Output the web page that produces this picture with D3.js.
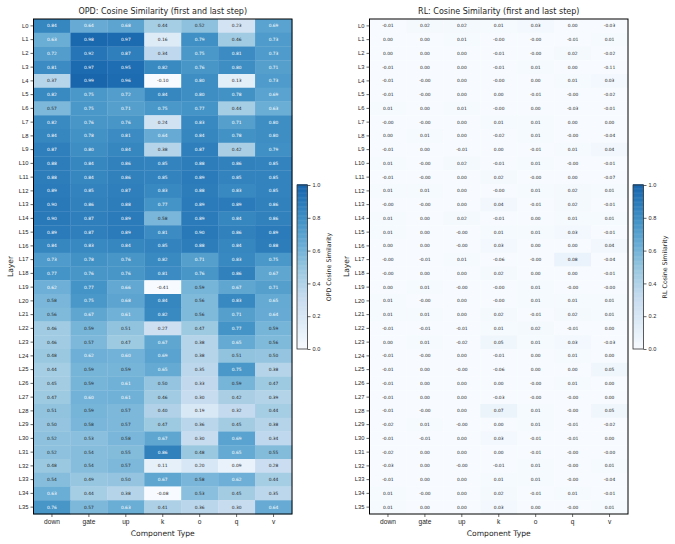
<!DOCTYPE html>
<html>
<head>
<meta charset="utf-8">
<script src="https://cdn.jsdelivr.net/npm/d3@7"></script>
<style>
  body { margin: 0; background: #fff; }
  svg { font-family: "DejaVu Sans", sans-serif; }
</style>
</head>
<body>
<script>
// component types (columns) and layers (rows)
var components = ["down", "gate", "up", "k", "o", "q", "v"];
var layers = d3.range(36).map(function (i) { return "L" + i; });

// OPD cosine similarity, one row per layer: down, gate, up, k, o, q, v
var opdValues = [
  [0.84, 0.64, 0.68, 0.44, 0.52, 0.23, 0.69],
  [0.63, 0.98, 0.97, 0.16, 0.79, 0.46, 0.73],
  [0.72, 0.92, 0.87, 0.34, 0.75, 0.81, 0.73],
  [0.81, 0.97, 0.95, 0.82, 0.76, 0.80, 0.71],
  [0.37, 0.99, 0.96, -0.10, 0.80, 0.13, 0.73],
  [0.82, 0.75, 0.72, 0.84, 0.80, 0.78, 0.69],
  [0.57, 0.75, 0.71, 0.75, 0.77, 0.44, 0.63],
  [0.82, 0.76, 0.76, 0.24, 0.83, 0.71, 0.80],
  [0.84, 0.78, 0.81, 0.64, 0.84, 0.78, 0.80],
  [0.87, 0.80, 0.84, 0.38, 0.87, 0.42, 0.79],
  [0.88, 0.84, 0.86, 0.85, 0.88, 0.86, 0.85],
  [0.88, 0.84, 0.86, 0.85, 0.89, 0.85, 0.85],
  [0.89, 0.85, 0.87, 0.83, 0.88, 0.83, 0.85],
  [0.90, 0.86, 0.88, 0.77, 0.89, 0.89, 0.86],
  [0.90, 0.87, 0.89, 0.58, 0.89, 0.84, 0.86],
  [0.89, 0.87, 0.89, 0.81, 0.90, 0.86, 0.89],
  [0.84, 0.83, 0.84, 0.85, 0.88, 0.84, 0.88],
  [0.73, 0.78, 0.76, 0.82, 0.71, 0.83, 0.75],
  [0.77, 0.76, 0.76, 0.81, 0.76, 0.86, 0.67],
  [0.62, 0.77, 0.66, -0.41, 0.59, 0.67, 0.71],
  [0.58, 0.75, 0.68, 0.84, 0.56, 0.83, 0.65],
  [0.56, 0.67, 0.61, 0.82, 0.56, 0.71, 0.64],
  [0.46, 0.59, 0.51, 0.27, 0.47, 0.77, 0.59],
  [0.46, 0.57, 0.47, 0.67, 0.38, 0.65, 0.56],
  [0.48, 0.62, 0.60, 0.69, 0.38, 0.51, 0.50],
  [0.44, 0.59, 0.59, 0.65, 0.35, 0.75, 0.38],
  [0.45, 0.59, 0.61, 0.50, 0.33, 0.59, 0.47],
  [0.47, 0.60, 0.61, 0.46, 0.30, 0.42, 0.39],
  [0.51, 0.59, 0.57, 0.40, 0.19, 0.32, 0.44],
  [0.50, 0.58, 0.57, 0.47, 0.36, 0.45, 0.38],
  [0.52, 0.53, 0.58, 0.67, 0.30, 0.69, 0.34],
  [0.52, 0.54, 0.55, 0.86, 0.48, 0.65, 0.55],
  [0.48, 0.54, 0.57, 0.11, 0.20, 0.09, 0.28],
  [0.54, 0.49, 0.50, 0.67, 0.58, 0.62, 0.44],
  [0.63, 0.44, 0.38, -0.08, 0.53, 0.45, 0.35],
  [0.76, 0.57, 0.63, 0.41, 0.36, 0.30, 0.64]
];

// RL cosine similarity (-0.00 kept as negative zero)
var rlValues = [
  [-0.01, 0.02, 0.02, 0.01, 0.03, 0.00, -0.03],
  [0.00, 0.00, 0.01, -0.00, -0.00, -0.01, 0.01],
  [0.00, 0.00, 0.00, -0.01, -0.00, 0.02, -0.02],
  [-0.01, 0.00, 0.00, -0.01, 0.01, 0.00, -0.11],
  [-0.01, -0.00, 0.00, -0.00, 0.00, 0.01, 0.03],
  [-0.01, -0.00, 0.00, 0.00, -0.01, -0.00, -0.02],
  [0.01, 0.00, 0.01, -0.00, 0.00, -0.03, -0.01],
  [-0.00, -0.00, 0.00, 0.01, 0.01, 0.00, 0.00],
  [0.00, 0.01, 0.00, -0.02, 0.01, -0.00, -0.04],
  [-0.01, 0.00, -0.01, 0.00, -0.01, 0.01, 0.04],
  [0.01, -0.00, 0.02, -0.01, 0.01, -0.00, -0.01],
  [-0.01, -0.00, 0.00, 0.02, -0.00, 0.00, -0.07],
  [0.01, 0.01, 0.00, -0.00, 0.01, 0.02, 0.01],
  [-0.00, -0.00, 0.00, 0.04, -0.01, 0.02, -0.01],
  [0.01, 0.00, 0.02, -0.01, 0.00, 0.01, 0.01],
  [0.01, 0.00, -0.00, 0.01, 0.01, 0.03, -0.01],
  [0.00, 0.00, -0.00, 0.03, 0.00, 0.00, 0.04],
  [-0.00, -0.01, 0.01, -0.06, -0.00, 0.08, -0.04],
  [-0.00, 0.00, 0.00, 0.02, 0.00, 0.00, -0.01],
  [0.00, 0.01, -0.00, -0.00, 0.01, -0.00, -0.00],
  [0.01, -0.00, 0.00, -0.00, 0.01, 0.01, 0.01],
  [0.01, 0.01, 0.00, 0.02, -0.01, 0.02, 0.01],
  [-0.01, -0.01, -0.01, 0.01, 0.02, -0.01, 0.00],
  [0.00, 0.01, -0.02, 0.05, 0.01, 0.03, -0.03],
  [-0.01, -0.00, 0.00, -0.01, 0.00, 0.01, 0.00],
  [-0.01, 0.00, -0.00, -0.06, 0.00, 0.00, 0.05],
  [-0.01, 0.00, 0.00, 0.00, -0.00, 0.01, 0.00],
  [-0.01, 0.00, 0.00, -0.03, -0.00, -0.00, 0.00],
  [-0.01, -0.00, 0.00, 0.07, 0.01, -0.00, 0.05],
  [-0.02, 0.01, -0.00, 0.00, 0.01, -0.01, -0.02],
  [-0.01, -0.01, 0.00, 0.03, -0.01, -0.01, 0.00],
  [-0.02, 0.00, 0.00, 0.00, -0.01, -0.00, -0.00],
  [-0.03, 0.00, -0.00, -0.01, 0.01, -0.00, 0.01],
  [-0.01, 0.00, 0.00, 0.01, 0.01, -0.00, -0.04],
  [0.01, -0.00, 0.00, 0.02, -0.01, 0.01, -0.01],
  [0.01, 0.00, 0.00, 0.03, 0.00, -0.00, 0.01]
];

var cbTicks = [0, 0.2, 0.4, 0.6, 0.8, 1.0];

// Blues (colorbrewer stops, linear like matplotlib) truncated to the lower 80%
var bluesStops = ["#f7fbff", "#deebf7", "#c6dbef", "#9ecae1", "#6baed6",
                  "#4292c6", "#2171b5", "#08519c", "#08306b"];
var blues = d3.scaleLinear()
    .domain(d3.range(9).map(function (i) { return i / 8; }))
    .range(bluesStops)
    .interpolate(d3.interpolateRgb)
    .clamp(true);
var color = function (v) { return blues(Math.max(0, Math.min(1, v)) * 0.8); };

function lum(c) {
  var rgb = d3.rgb(c);
  var f = function (x) {
    x = x / 255;
    return x <= 0.03928 ? x / 12.92 : Math.pow((x + 0.055) / 1.055, 2.4);
  };
  return 0.2126 * f(rgb.r) + 0.7152 * f(rgb.g) + 0.0722 * f(rgb.b);
}

function fmt(v) {
  var neg = v < 0 || Object.is(v, -0);
  return (neg ? "-" : "") + Math.abs(v).toFixed(2);
}

var width = 675, height = 544;
var svg = d3.select("body").append("svg")
    .attr("width", width).attr("height", height);

function heatmap(values, left, title, cbLabel) {
  var top = 19, w = 258.5, h = 495;
  var xScale = d3.scaleBand().domain(components).range([0, w]);
  var yScale = d3.scaleBand().domain(layers).range([0, h]);

  var g = svg.append("g").attr("transform", "translate(" + left + "," + top + ")");

  var cells = [];
  values.forEach(function (row, i) {
    row.forEach(function (v, j) {
      cells.push({layer: layers[i], comp: components[j], v: v});
    });
  });

  g.selectAll("rect.cell").data(cells).enter().append("rect")
      .attr("class", "cell")
      .attr("x", function (d) { return xScale(d.comp); })
      .attr("y", function (d) { return yScale(d.layer); })
      .attr("width", xScale.bandwidth() + 0.3)
      .attr("height", yScale.bandwidth() + 0.3)
      .attr("fill", function (d) { return color(d.v); });

  g.selectAll("text.annot").data(cells).enter().append("text")
      .attr("class", "annot")
      .attr("x", function (d) { return xScale(d.comp) + xScale.bandwidth() / 2; })
      .attr("y", function (d) { return yScale(d.layer) + yScale.bandwidth() / 2; })
      .attr("dy", "0.35em")
      .attr("text-anchor", "middle")
      .attr("font-size", 4.4)
      .attr("fill", function (d) { return lum(color(d.v)) > 0.408 ? "#262626" : "#ffffff"; })
      .text(function (d) { return fmt(d.v); });

  // frame
  g.append("rect")
      .attr("width", w).attr("height", h)
      .attr("fill", "none").attr("stroke", "#000").attr("stroke-width", 1);

  var yAxis = d3.axisLeft(yScale).tickSize(3).tickPadding(2);
  var yg = g.append("g").call(yAxis);
  yg.select(".domain").remove();
  yg.selectAll("text").attr("font-size", 5.8).attr("fill", "#262626");
  yg.selectAll("line").attr("stroke", "#262626").attr("stroke-width", 0.7);

  var xAxis = d3.axisBottom(xScale).tickSize(3).tickPadding(2);
  var xg = g.append("g").attr("transform", "translate(0," + h + ")").call(xAxis);
  xg.select(".domain").remove();
  xg.selectAll("text").attr("font-size", 6.6).attr("fill", "#262626");
  xg.selectAll("line").attr("stroke", "#262626").attr("stroke-width", 0.7);

  g.append("text")
      .attr("x", w / 2).attr("y", -5)
      .attr("text-anchor", "middle")
      .attr("font-size", 8)
      .attr("fill", "#262626")
      .text(title);

  g.append("text")
      .attr("x", w / 2).attr("y", h + 22)
      .attr("text-anchor", "middle")
      .attr("font-size", 7.6)
      .attr("fill", "#262626")
      .text("Component Type");

  g.append("text")
      .attr("transform", "translate(" + (-21) + "," + (h / 2) + ") rotate(-90)")
      .attr("text-anchor", "middle")
      .attr("font-size", 7.6)
      .attr("fill", "#262626")
      .text("Layer");

  // colorbar
  var cbX = w + 5, cbY = 185 - top, cbW = 10.5, cbH = 164;
  var cbScale = d3.scaleLinear().domain([0, 1]).range([cbH, 0]);
  var cb = g.append("g").attr("transform", "translate(" + cbX + "," + cbY + ")");
  var steps = d3.range(0, 1.0001, 1 / 200);
  cb.selectAll("rect.cbstep").data(steps).enter().append("rect")
      .attr("class", "cbstep")
      .attr("x", 0)
      .attr("y", function (d) { return cbScale(d) - cbH / 200; })
      .attr("width", cbW)
      .attr("height", cbH / 200 + 0.5)
      .attr("fill", function (d) { return color(d); });
  cb.append("rect")
      .attr("width", cbW).attr("height", cbH)
      .attr("fill", "none").attr("stroke", "#333").attr("stroke-width", 0.8);
  var cbAxis = d3.axisRight(cbScale).tickValues(cbTicks)
      .tickFormat(d3.format(".1f")).tickSize(3).tickPadding(2);
  var cg = cb.append("g").attr("transform", "translate(" + cbW + ",0)").call(cbAxis);
  cg.select(".domain").remove();
  cg.selectAll("text").attr("font-size", 5.6).attr("fill", "#262626");
  cg.selectAll("line").attr("stroke", "#262626").attr("stroke-width", 0.7);
  cb.append("text")
      .attr("transform", "translate(" + (cbW + 23) + "," + (cbH / 2) + ") rotate(-90)")
      .attr("text-anchor", "middle")
      .attr("font-size", 6.3)
      .attr("fill", "#262626")
      .text(cbLabel);
}

heatmap(opdValues, 33.5, "OPD: Cosine Similarity (first and last step)", "OPD Cosine Similarity");
heatmap(rlValues, 369.5, "RL: Cosine Similarity (first and last step)", "RL Cosine Similarity");
</script>
</body>
</html>
